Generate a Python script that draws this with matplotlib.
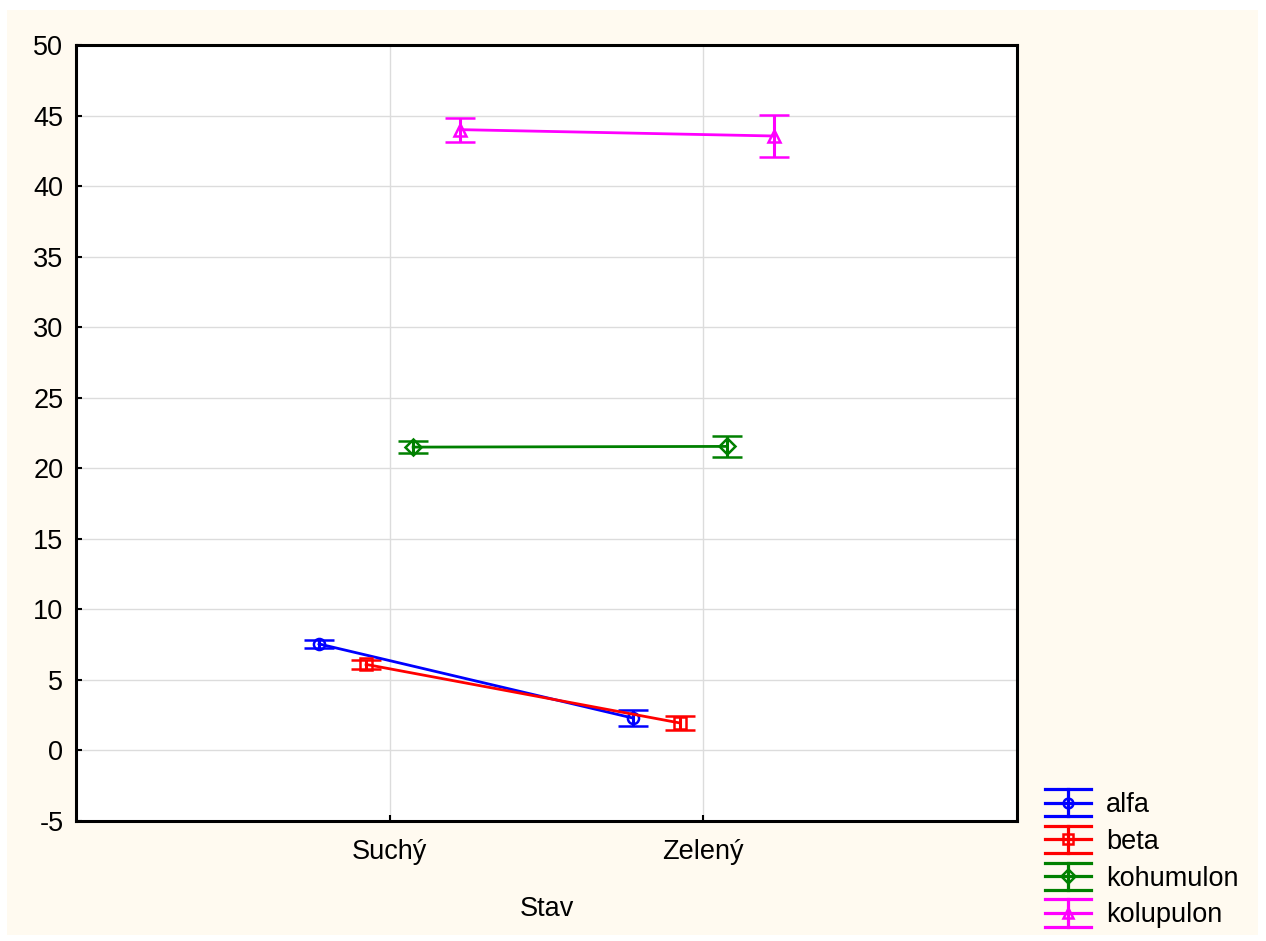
import numpy as np
import matplotlib
matplotlib.use("Agg")
import matplotlib.pyplot as plt
from matplotlib.lines import Line2D
from matplotlib.patches import Rectangle
from matplotlib.legend_handler import HandlerBase

plt.rcParams['font.family'] = ['Liberation Sans', 'DejaVu Sans']
plt.rcParams['axes.unicode_minus'] = False

STAV = ["Suchý", "Zelený"]
SERIES = ["alfa", "beta", "kohumulon", "kolupulon"]
alfa_mean = [7.55, 2.3]
alfa_err = [0.3, 0.55]
beta_mean = [6.1, 1.95]
beta_err = [0.3, 0.5]
kohumulon_mean = [21.5, 21.55]
kohumulon_err = [0.4, 0.75]
kolupulon_mean = [44.0, 43.55]
kolupulon_err = [0.85, 1.5]

COLORS = ["#0000FF", "#FF0000", "#008000", "#FF00FF"]
MARKERS = ["o", "s", "D", "^"]
OFFSETS = [-0.225, -0.075, 0.075, 0.225]     # dodge the groups around each category
FS = 19.5


class ErrorbarHandle(HandlerBase):
    """Legend key: full-width caps, middle line and a vertical bar with the marker."""

    def create_artists(self, legend, orig_handle, xdescent, ydescent,
                       width, height, fontsize, trans):
        c = orig_handle.get_color()
        x0, x1 = -xdescent, -xdescent + width
        xm = (x0 + x1) / 2
        ym = -ydescent + height / 2
        h = height * 0.72
        parts = [
            Line2D([x0, x1], [ym, ym]),
            Line2D([x0, x1], [ym + h, ym + h]),
            Line2D([x0, x1], [ym - h, ym - h]),
            Line2D([xm, xm], [ym - h, ym + h]),
            Line2D([xm], [ym], marker=orig_handle.get_marker(), markersize=7,
                   markerfacecolor="none", markeredgewidth=1.8),
        ]
        for p in parts:
            p.set_color(c)
            p.set_linewidth(2.3)
            p.set_transform(trans)
        return parts


fig = plt.figure(figsize=(12.66, 9.41), dpi=100, facecolor="white")
fig.patches.append(Rectangle((7 / 1266, 1 - 935 / 941), 1251 / 1266, 925 / 941,
                             transform=fig.transFigure, facecolor="#FFFAF0",
                             edgecolor="none", zorder=-10))

ax = fig.add_axes([0.0600, 0.1275, 0.7433, 0.8247])
ax.set_facecolor("white")

means = [alfa_mean, beta_mean, kohumulon_mean, kolupulon_mean]
errs = [alfa_err, beta_err, kohumulon_err, kolupulon_err]
x = np.arange(1, len(STAV) + 1)

handles = []
for name, m, e, col, mk, off in zip(SERIES, means, errs, COLORS, MARKERS, OFFSETS):
    cont = ax.errorbar(x + off, m, yerr=e, color=col, marker=mk, markersize=8,
                       markerfacecolor="none", markeredgewidth=1.8,
                       linewidth=2.0, elinewidth=2.2, capsize=11, capthick=2.3,
                       label=name)
    handles.append(cont[0])

ax.set_xlim(0, 3)
ax.set_ylim(-5, 50)
ax.set_yticks(np.arange(-5, 51, 5))
ax.set_xticks(x)
ax.set_xticklabels(STAV)
ax.grid(True, color="#DCDCDC", linewidth=1.0)
ax.set_axisbelow(True)
ax.tick_params(direction="in", length=4, width=1.5, labelsize=FS)
ax.tick_params(axis="y", pad=9)
ax.tick_params(axis="x", pad=13)
for s in ax.spines.values():
    s.set_linewidth(2.2)
ax.set_xlabel("Stav", fontsize=FS, labelpad=22)

fig.legend(handles, SERIES, loc="upper left",
           bbox_to_anchor=(1045 / 1266, 1 - 792 / 941), frameon=False,
           fontsize=FS, handlelength=1.7, handleheight=0.7, handletextpad=0.55,
           labelspacing=0.4, borderpad=0, borderaxespad=0,
           handler_map={Line2D: ErrorbarHandle()})

fig.savefig("out.png", dpi=100, facecolor=fig.get_facecolor())
